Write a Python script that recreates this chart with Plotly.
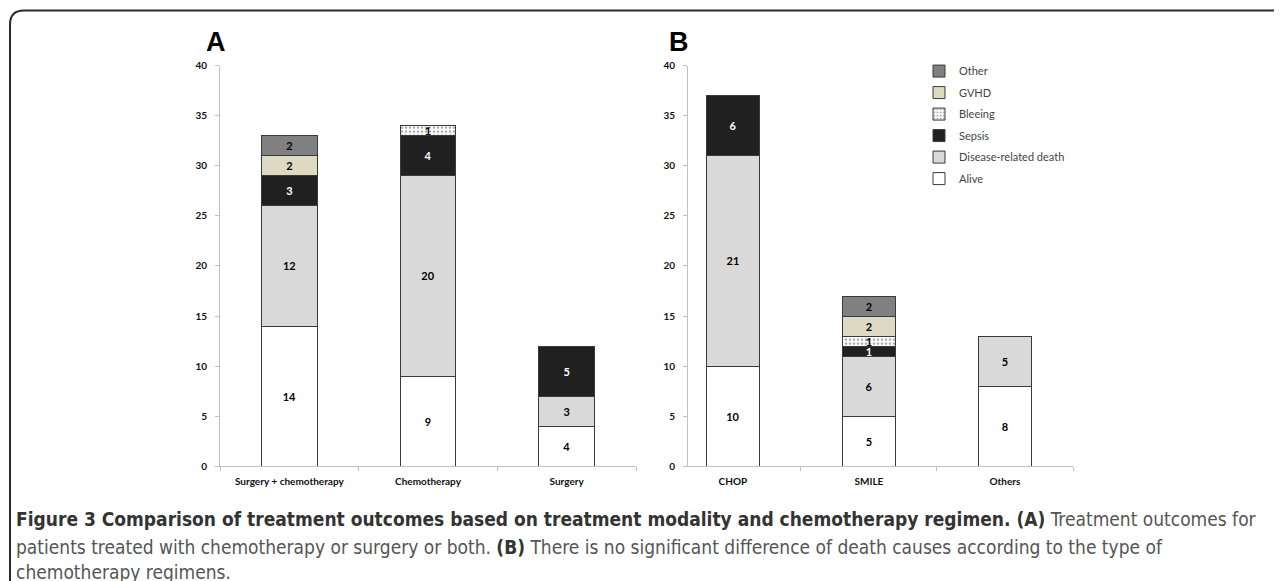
import plotly.graph_objects as go

W, H = 1282, 581
# measured mapping of the viewer: screen_x = fig_x + OX ; screen_y = SY * fig_y + OY
OX = 8
SY, OY = 0.9775, 14.5

cats_a = ["Surgery + chemotherapy", "Chemotherapy", "Surgery"]
cats_b = ["CHOP", "SMILE", "Others"]
series = ["Alive", "Disease-related death", "Sepsis", "Bleeing", "GVHD", "Other"]

alive_a = [14, 9, 4]
disease_a = [12, 20, 3]
sepsis_a = [3, 4, 5]
bleeding_a = [0, 1, 0]
gvhd_a = [2, 0, 0]
other_a = [2, 0, 0]

alive_b = [10, 5, 8]
disease_b = [21, 6, 5]
sepsis_b = [6, 1, 0]
bleeding_b = [0, 1, 0]
gvhd_b = [0, 2, 0]
other_b = [0, 2, 0]

y_ticks = [0, 5, 10, 15, 20, 25, 30, 35, 40]

vals_a = [alive_a, disease_a, sepsis_a, bleeding_a, gvhd_a, other_a]
vals_b = [alive_b, disease_b, sepsis_b, bleeding_b, gvhd_b, other_b]

styles = {
    "Alive": dict(color="#ffffff", text="#000000"),
    "Disease-related death": dict(color="#d9d9d9", text="#000000"),
    "Sepsis": dict(color="#202020", text="#ffffff"),
    "Bleeing": dict(color="#ffffff", text="#000000", pattern=True),
    "GVHD": dict(color="#ddd9c3", text="#000000"),
    "Other": dict(color="#808080", text="#000000"),
}


def px(x):
    return (x - OX) / W


def py(y):
    return 1 - ((y - OY) / SY) / H


fig = go.Figure()

for panel, cats, vals, xa, ya in [("A", cats_a, vals_a, "x", "y"), ("B", cats_b, vals_b, "x2", "y2")]:
    for k, (name, v) in enumerate(zip(series, vals)):
        st = styles[name]
        marker = dict(color=st["color"], line=dict(color="#3a3a3a", width=1))
        if st.get("pattern"):
            marker["pattern"] = dict(shape=".", fgcolor="#555555", bgcolor="#ffffff", size=4, solidity=0.35)
        fig.add_trace(go.Bar(
            x=cats, y=[val if val else None for val in v],
            name=name, legendgroup=name, showlegend=(panel == "B"),
            legendrank=1000 - k,
            marker=marker,
            text=[str(val) if val else "" for val in v],
            textposition="inside", insidetextanchor="middle", textangle=0,
            constraintext="none", cliponaxis=False,
            textfont=dict(family="Lato, Open Sans, sans-serif", size=11, color=st["text"], weight="bold"),
            width=0.4 if panel == "A" else 0.39,
            xaxis=xa, yaxis=ya, hoverinfo="skip",
        ))

axis_common = dict(showline=True, linecolor="#c0c0c0", linewidth=1, ticks="outside",
                   tickcolor="#c0c0c0", ticklen=4, showgrid=False, zeroline=False,
                   ticklabelstandoff=6,
                   tickfont=dict(family="Lato, Open Sans, sans-serif", size=10, color="#111111", weight="bold"))

fig.update_layout(
    width=W, height=H, margin=dict(l=0, r=0, t=0, b=0),
    paper_bgcolor="white", plot_bgcolor="white",
    barmode="stack",
    xaxis=dict(domain=[px(220), px(636)], type="category", tickson="boundaries",
               range=[-0.5, 2.5], anchor="y", **axis_common),
    yaxis=dict(domain=[py(466), py(66)], range=[0, 40], tickvals=y_ticks, anchor="x", **axis_common),
    xaxis2=dict(domain=[px(688), px(1073)], type="category", tickson="boundaries",
                range=[-0.33, 2.5], anchor="y2", **axis_common),
    yaxis2=dict(domain=[py(466), py(66)], range=[0, 40], tickvals=y_ticks, anchor="x2", **axis_common),
    legend=dict(x=px(919), y=py(57), xanchor="left", yanchor="top", traceorder="grouped",
                font=dict(family="Lato, Open Sans, sans-serif", size=11, color="#444444"),
                bgcolor="rgba(0,0,0,0)", itemwidth=30, tracegroupgap=2.5),
    showlegend=True,
)

# panel letters
for letter, x in [("A", 204), ("B", 667)]:
    fig.add_annotation(text="<b>%s</b>" % letter, x=px(x), y=py(42), xref="paper", yref="paper",
                       xanchor="left", yanchor="middle", showarrow=False,
                       font=dict(family="Liberation Sans, Arial, sans-serif", size=27, color="#000000"))

# frame with rounded top-left corner
x0, y0, r = 10, 11, 14
path = "M {a},{b} L {a},{c} Q {a},{d} {e},{d} L {f},{d}".format(
    a=px(x0), b=py(620), c=py(y0 + r), d=py(y0), e=px(x0 + r), f=px(1300))
fig.add_shape(type="path", path=path, xref="paper", yref="paper",
              line=dict(color="#2a2a2a", width=2))

cap_font = dict(family="DejaVu Sans Condensed, Liberation Sans Narrow, sans-serif", size=19, color="#555555")
lines = [
    "<b><span style='color:#333333'>Figure 3 Comparison of treatment outcomes based on treatment modality and chemotherapy regimen. (A)</span></b> Treatment outcomes for",
    "patients treated with chemotherapy or surgery or both. <b><span style='color:#333333'>(B)</span></b> There is no significant difference of death causes according to the type of",
    "chemotherapy regimens.",
]
cap_y = [519, 546, 571]
for t, yy in zip(lines, cap_y):
    fig.add_annotation(text=t, x=px(14), y=py(yy), xref="paper", yref="paper",
                       xanchor="left", yanchor="middle", showarrow=False, align="left", font=cap_font)

fig.write_html("out.html")
